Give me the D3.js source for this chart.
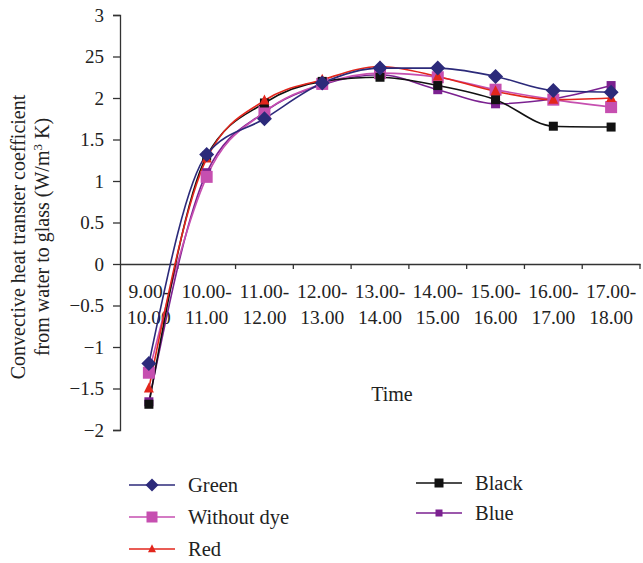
<!DOCTYPE html>
<html>
<head>
<meta charset="utf-8">
<script src="https://cdn.jsdelivr.net/npm/d3@7"></script>
<style>
  body { margin: 0; background: #fff; }
  svg text { font-family: "Liberation Serif", "DejaVu Serif", serif; fill: #222; }
</style>
</head>
<body>
<svg id="chart" width="643" height="563"></svg>
<script>
const categories = ["9.00-|10.00", "10.00-|11.00", "11.00-|12.00", "12.00-|13.00", "13.00-|14.00",
                    "14.00-|15.00", "15.00-|16.00", "16.00-|17.00", "17.00-|18.00"];
const green      = [-1.20, 1.32, 1.75, 2.18, 2.36, 2.36, 2.26, 2.09, 2.07];
const withoutDye = [-1.31, 1.05, 1.83, 2.17, 2.30, 2.25, 2.10, 1.98, 1.89];
const red        = [-1.50, 1.27, 1.97, 2.22, 2.38, 2.26, 2.08, 1.98, 2.00];
const black      = [-1.69, 1.30, 1.94, 2.20, 2.25, 2.15, 1.98, 1.66, 1.65];
const blue       = [-1.66, 1.10, 1.83, 2.16, 2.28, 2.10, 1.93, 1.99, 2.15];
const yTickValues = [3, 2.5, 2, 1.5, 1, 0.5, 0, -0.5, -1, -1.5, -2];
const yTickLabels = ["3", "25", "2", "1.5", "1", "0.5", "0", "\u22120.5", "\u22121", "\u22121.5", "\u22122"];

const series = [
  { name: "Blue",        values: blue,       color: "#7b2190", marker: "square",   size: 9 },
  { name: "Without dye", values: withoutDye, color: "#c64fb0", marker: "square",   size: 12 },
  { name: "Black",       values: black,      color: "#111111", marker: "square",   size: 9 },
  { name: "Red",         values: red,        color: "#e2261c", marker: "triangle", size: 10 },
  { name: "Green",       values: green,      color: "#2c2a7a", marker: "diamond",  size: 13 }
];

const svg = d3.select("#chart");
const x = d3.scaleBand().domain(categories).range([120, 640]);
const y = d3.scaleLinear().domain([-2, 3]).range([430, 15]);

// Y axis
const yAxis = d3.axisLeft(y).tickValues(yTickValues)
  .tickFormat((d) => yTickLabels[yTickValues.indexOf(d)]).tickSize(7).tickPadding(9);
const gy = svg.append("g").attr("transform", "translate(120,0)").call(yAxis);
gy.select(".domain").attr("stroke", "#333").attr("stroke-width", 1.3);
gy.selectAll(".tick line").attr("stroke", "#333").attr("stroke-width", 1.3);
gy.selectAll(".tick text").attr("font-size", 19).attr("font-family", "Liberation Serif").attr("fill", "#222");

// X axis at y=0
const xAxis = d3.axisBottom(x).tickSize(0).tickFormat("");
const gx = svg.append("g").attr("transform", `translate(0,${y(0)})`).call(xAxis);
gx.select(".domain").attr("stroke", "#333").attr("stroke-width", 1.3);
const bounds = categories.map(c => x(c)).concat([x.range()[1]]).slice(1);
gx.selectAll(".bnd").data(bounds).enter().append("line")
  .attr("x1", d => d).attr("x2", d => d).attr("y1", 0).attr("y2", 5)
  .attr("stroke", "#333").attr("stroke-width", 1.3);
const xl = svg.append("g");
categories.forEach(c => {
  const parts = c.split("|");
  const cx = x(c) + x.bandwidth() / 2;
  const t = xl.append("text").attr("text-anchor", "middle").attr("font-size", 19.5);
  t.append("tspan").attr("x", cx).attr("y", 298).text(parts[0]);
  t.append("tspan").attr("x", cx).attr("y", 324).text(parts[1]);
});

// Axis titles
svg.append("text").attr("x", 392).attr("y", 401).attr("text-anchor", "middle")
  .attr("font-size", 20).text("Time");
const yt = svg.append("text").attr("transform", "translate(0,237) rotate(-90)")
  .attr("text-anchor", "middle").attr("font-size", 20);
yt.append("tspan").attr("x", 0).attr("y", 25).text("Convective heat transter coefficient");
const l2 = yt.append("tspan").attr("x", 0).attr("y", 49);
l2.append("tspan").text("from water to glass (W/m");
l2.append("tspan").attr("dy", -7).attr("font-size", 13).text("3");
l2.append("tspan").attr("dy", 7).text(" K)");

function drawMarker(g, type, cx, cy, s, color) {
  if (type === "square") {
    g.append("rect").attr("x", cx - s / 2).attr("y", cy - s / 2).attr("width", s).attr("height", s).attr("fill", color);
  } else if (type === "diamond") {
    const h = s / 2 + 1;
    g.append("path").attr("d", `M${cx},${cy - h}L${cx + h},${cy}L${cx},${cy + h}L${cx - h},${cy}Z`).attr("fill", color);
  } else if (type === "triangle") {
    const h = s;
    g.append("path").attr("d", `M${cx},${cy - h * 0.6}L${cx + h * 0.5},${cy + h * 0.4}L${cx - h * 0.5},${cy + h * 0.4}Z`).attr("fill", color);
  }
}

const line = d3.line()
  .x((d, i) => x(categories[i]) + x.bandwidth() / 2)
  .y(d => y(d))
  .curve(d3.curveMonotoneX);

series.forEach(s => {
  svg.append("path").datum(s.values).attr("d", line)
    .attr("fill", "none").attr("stroke", s.color).attr("stroke-width", 1.6);
});
series.forEach(s => {
  const g = svg.append("g");
  s.values.forEach((v, i) => drawMarker(g, s.marker, x(categories[i]) + x.bandwidth() / 2, y(v), s.size, s.color));
});

// Legend
const legendItems = [
  { name: "Green",       color: "#2c2a7a", marker: "diamond",  size: 11, lx: 129, ly: 485 },
  { name: "Without dye", color: "#c64fb0", marker: "square",   size: 11, lx: 129, ly: 517 },
  { name: "Red",         color: "#e2261c", marker: "triangle", size: 8,  lx: 129, ly: 549 },
  { name: "Black",       color: "#111111", marker: "square",   size: 9,  lx: 416, ly: 483 },
  { name: "Blue",        color: "#7b2190", marker: "square",   size: 7,  lx: 416, ly: 513 }
];
legendItems.forEach(it => {
  const g = svg.append("g");
  g.append("line").attr("x1", it.lx).attr("x2", it.lx + 46).attr("y1", it.ly).attr("y2", it.ly)
    .attr("stroke", it.color).attr("stroke-width", 1.6);
  drawMarker(g, it.marker, it.lx + 23, it.ly, it.size, it.color);
  g.append("text").attr("x", it.lx + 59).attr("y", it.ly + 7).attr("font-size", 20.5).text(it.name);
});
</script>
</body>
</html>
